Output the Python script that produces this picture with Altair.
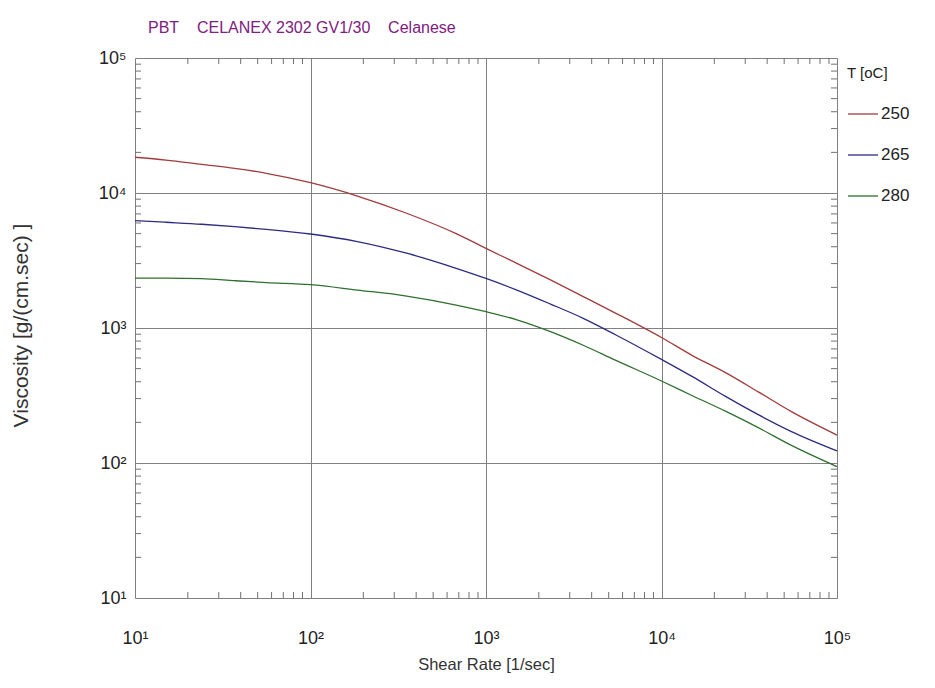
import altair as alt
import pandas as pd

# Shear rate [1/sec]
shear = [10, 15, 24, 37, 56, 100, 185, 353, 676, 1000, 1500, 2330, 3580, 5500,
         10000, 15000, 23300, 35800, 55000, 100000]
# Viscosity [g/(cm.sec)] per temperature
visc_250 = [18400, 17550, 16300, 15230, 14000, 11920, 9500, 7080, 5000, 3890,
            3010, 2270, 1710, 1285, 850, 625, 465, 335, 240, 161]
visc_265 = [6240, 6070, 5870, 5630, 5380, 4970, 4370, 3580, 2770, 2330,
            1910, 1505, 1180, 888, 585, 436, 310, 227, 171, 123]
visc_280 = [2345, 2345, 2320, 2240, 2170, 2095, 1910, 1725, 1480, 1320,
            1150, 940, 745, 575, 405, 315, 241, 182, 135, 94]
temps = ["250", "265", "280"]
colors = ["#a23b3b", "#2c2c80", "#2f6f2f"]
major = [10, 100, 1000, 10000, 100000]
minor = [m * 10 ** k for k in range(1, 5) for m in range(2, 10)]

W, H = 702, 540

rows = []
for t, vals in zip(temps, [visc_250, visc_265, visc_280]):
    for s, v in zip(shear, vals):
        rows.append({"shear": s, "visc": v, "T": t})
df = pd.DataFrame(rows)
mdf = pd.DataFrame({"v": minor})

label_expr = "'10' + ['\u2070','\u00b9','\u00b2','\u00b3','\u2074','\u2075'][round(log(datum.value)/LN10)]"

xscale = alt.Scale(type="log", domain=[10, 100000], nice=False)
yscale = alt.Scale(type="log", domain=[10, 100000], nice=False)

xaxis = alt.Axis(values=major, labelExpr=label_expr, grid=True, ticks=False, domain=False,
                 gridColor="#808080", gridWidth=1, gridOpacity=1,
                 labelFontSize=18, labelPadding=31, labelColor="#222",
                 labelFont="Liberation Sans", title="Shear Rate [1/sec]",
                 titleFont="Liberation Sans", titleFontSize=16.5, titleFontWeight="normal",
                 titleColor="#333", titlePadding=9, labelFlush=False)
yaxis = alt.Axis(values=major, labelExpr=label_expr, grid=True, ticks=False, domain=False,
                 gridColor="#808080", gridWidth=1, gridOpacity=1,
                 labelFontSize=18, labelPadding=9, labelColor="#222",
                 labelFont="Liberation Sans", title="Viscosity [g/(cm.sec) ]",
                 titleFont="Liberation Sans", titleFontSize=21, titleFontWeight="normal",
                 titleColor="#333", titleX=-104, titleY=H / 2 - 3, labelFlush=False)

lines = alt.Chart(df).mark_line(strokeWidth=1.3, interpolate="monotone").encode(
    x=alt.X("shear:Q", scale=xscale, axis=xaxis),
    y=alt.Y("visc:Q", scale=yscale, axis=yaxis),
    color=alt.Color("T:N", scale=alt.Scale(domain=temps, range=colors),
                    legend=alt.Legend(title="T [oC]", orient="none", legendX=712, legendY=8,
                                      symbolType="stroke", symbolSize=900, symbolStrokeWidth=1.3,
                                      labelFontSize=17, labelFont="Liberation Sans",
                                      labelColor="#222", titleFont="Liberation Sans",
                                      titleFontSize=15, titleFontWeight="normal",
                                      titleColor="#222", rowPadding=17, titlePadding=17,
                                      labelOffset=2)),
)

tick_color = "#707070"
bx = alt.Chart(mdf).mark_rule(color=tick_color, strokeWidth=1).encode(
    x=alt.X("v:Q", scale=xscale), y=alt.value(H), y2=alt.value(H - 6))
tx = alt.Chart(mdf).mark_rule(color=tick_color, strokeWidth=1).encode(
    x=alt.X("v:Q", scale=xscale), y=alt.value(0), y2=alt.value(6))
ly = alt.Chart(mdf).mark_rule(color=tick_color, strokeWidth=1).encode(
    y=alt.Y("v:Q", scale=yscale), x=alt.value(0), x2=alt.value(6))
ry = alt.Chart(mdf).mark_rule(color=tick_color, strokeWidth=1).encode(
    y=alt.Y("v:Q", scale=yscale), x=alt.value(W), x2=alt.value(W - 6))

chart = alt.layer(bx, tx, ly, ry, lines).properties(
    width=W, height=H,
    title=alt.Title("PBT\u00a0\u00a0\u00a0\u00a0CELANEX 2302 GV1/30\u00a0\u00a0\u00a0\u00a0Celanese",
                    anchor="start", frame="group", dx=13, offset=13, fontSize=16,
                    fontWeight="normal", font="Liberation Sans", color="#802080"),
    autosize=alt.AutoSizeParams(type="none"),
    padding={"left": 127, "top": 50, "right": 90, "bottom": 80},
).configure_view(stroke="#a0a0a0", strokeWidth=2).configure(background="white")

chart.save("out.html", embed_options={"renderer": "svg", "actions": False})
